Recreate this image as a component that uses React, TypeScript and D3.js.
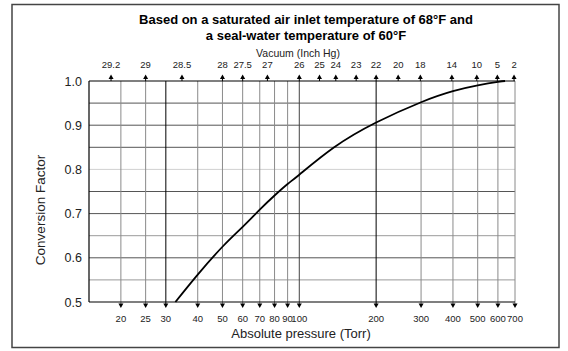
import * as d3 from 'd3';

// absolute pressure ticks along the bottom (Torr)
const pressureTicks = [20, 25, 30, 40, 50, 60, 70, 80, 90, 100, 200, 300, 400, 500, 600, 700];
// vacuum labels along the top, with the pressure (Torr) where each one sits
const vacuumLabels = ['29.2', '29', '28.5', '28', '27.5', '27', '26', '25', '24', '23', '22', '20', '18', '14', '10', '5', '2'];
const vacuumAtTorr = [18.3, 25, 34.7, 50, 60, 75, 100, 120, 139, 167, 200, 244, 298, 396, 496, 597, 694];

const yTicks = [0.5, 0.6, 0.7, 0.8, 0.9, 1.0];
const yGrid = [0.55, 0.6, 0.65, 0.7, 0.75, 0.8, 0.85, 0.9, 0.95];

// conversion factor curve
const curveTorr = [32.7, 40, 50, 60, 70, 80, 90, 100, 137, 200, 300, 400, 500, 600, 640];
const curveFactor = [0.5, 0.562, 0.625, 0.67, 0.709, 0.741, 0.767, 0.788, 0.85, 0.906, 0.952, 0.977, 0.99, 0.998, 1.0];

const W = 568;
const H = 351;
const PLOT = { left: 89, right: 515, top: 81, bottom: 302 };
const FONT = '"Liberation Sans", Arial, sans-serif';

const darkLines = [30, 200];
const midLines = [100];
const lightH = [0.8];
const softH = [0.55, 0.65];

export default function App() {
  const x = d3.scaleLog().domain([15, 700]).range([PLOT.left, PLOT.right]);
  const y = d3.scaleLinear().domain([0.5, 1.0]).range([PLOT.bottom, PLOT.top]);

  const points = curveTorr.map((p, i) => [x(p), y(curveFactor[i])] as [number, number]);
  const line = d3.line().curve(d3.curveNatural)(points) ?? '';

  const vColor = (t: number) => (darkLines.includes(t) ? '#000' : midLines.includes(t) ? '#444' : '#8a8a8a');
  const hColor = (v: number) => (lightH.includes(v) ? '#d0d0d0' : softH.includes(v) ? '#9a9a9a' : '#555');

  return (
    <svg
      width={W}
      height={H}
      style={{ position: 'absolute', left: 0, top: 0, background: '#fff' }}
      fontFamily={FONT}
    >
      <rect x={12} y={4.5} width={547} height={343} fill="#fff" stroke="#444" strokeWidth={1.5} />

      {/* title */}
      <text x={306} y={23.5} textAnchor="middle" fontSize={13} fontWeight="bold" fill="#000">
        Based on a saturated air inlet temperature of 68°F and
      </text>
      <text x={306} y={40} textAnchor="middle" fontSize={13} fontWeight="bold" fill="#000">
        a seal-water temperature of 60°F
      </text>

      {/* horizontal grid */}
      {yGrid.map((v) => (
        <line key={'h' + v} x1={PLOT.left} x2={PLOT.right} y1={y(v)} y2={y(v)} stroke={hColor(v)} strokeWidth={1} />
      ))}

      {/* vertical grid + bottom arrows */}
      {pressureTicks.map((t) => (
        <g key={'v' + t}>
          <line x1={x(t)} x2={x(t)} y1={PLOT.top} y2={PLOT.bottom + 2} stroke={vColor(t)} strokeWidth={1} />
          <path
            d={`M${x(t) - 2.5},${PLOT.bottom + 1.5} L${x(t) + 2.5},${PLOT.bottom + 1.5} L${x(t)},${PLOT.bottom + 6} Z`}
            fill="#000"
          />
          <text x={x(t)} y={321.5} textAnchor="middle" fontSize={9.5} fill="#222">
            {t}
          </text>
        </g>
      ))}

      {/* top vacuum arrows */}
      {vacuumAtTorr.map((p, i) => (
        <g key={'t' + i}>
          <line x1={x(p)} x2={x(p)} y1={PLOT.top} y2={PLOT.top - 3} stroke="#000" strokeWidth={1} />
          <path
            d={`M${x(p) - 2.5},${PLOT.top - 2} L${x(p) + 2.5},${PLOT.top - 2} L${x(p)},${PLOT.top - 6.5} Z`}
            fill="#000"
          />
          <text x={x(p)} y={68} textAnchor="middle" fontSize={9.5} fill="#222">
            {vacuumLabels[i]}
          </text>
        </g>
      ))}

      {/* plot frame */}
      <line x1={PLOT.left} x2={PLOT.right} y1={PLOT.top} y2={PLOT.top} stroke="#000" strokeWidth={1.2} />
      <line x1={PLOT.left} x2={PLOT.right} y1={PLOT.bottom} y2={PLOT.bottom} stroke="#000" strokeWidth={1.2} />
      <line x1={PLOT.left} x2={PLOT.left} y1={PLOT.top} y2={PLOT.bottom} stroke="#000" strokeWidth={1.2} />

      {/* y ticks */}
      {yTicks.map((v) => (
        <text key={'y' + v} x={82} y={y(v) + 4.5} textAnchor="end" fontSize={12.5} fill="#222">
          {v.toFixed(1)}
        </text>
      ))}

      {/* curve */}
      <path d={line} fill="none" stroke="#000" strokeWidth={1.8} />

      {/* axis titles */}
      <text x={298} y={56.5} textAnchor="middle" fontSize={10.5} fill="#222">
        Vacuum (Inch Hg)
      </text>
      <text x={301} y={337.5} textAnchor="middle" fontSize={13} fill="#222">
        Absolute pressure (Torr)
      </text>
      <text transform="translate(45,210) rotate(-90)" textAnchor="middle" fontSize={13.5} fill="#222">
        Conversion Factor
      </text>
    </svg>
  );
}
